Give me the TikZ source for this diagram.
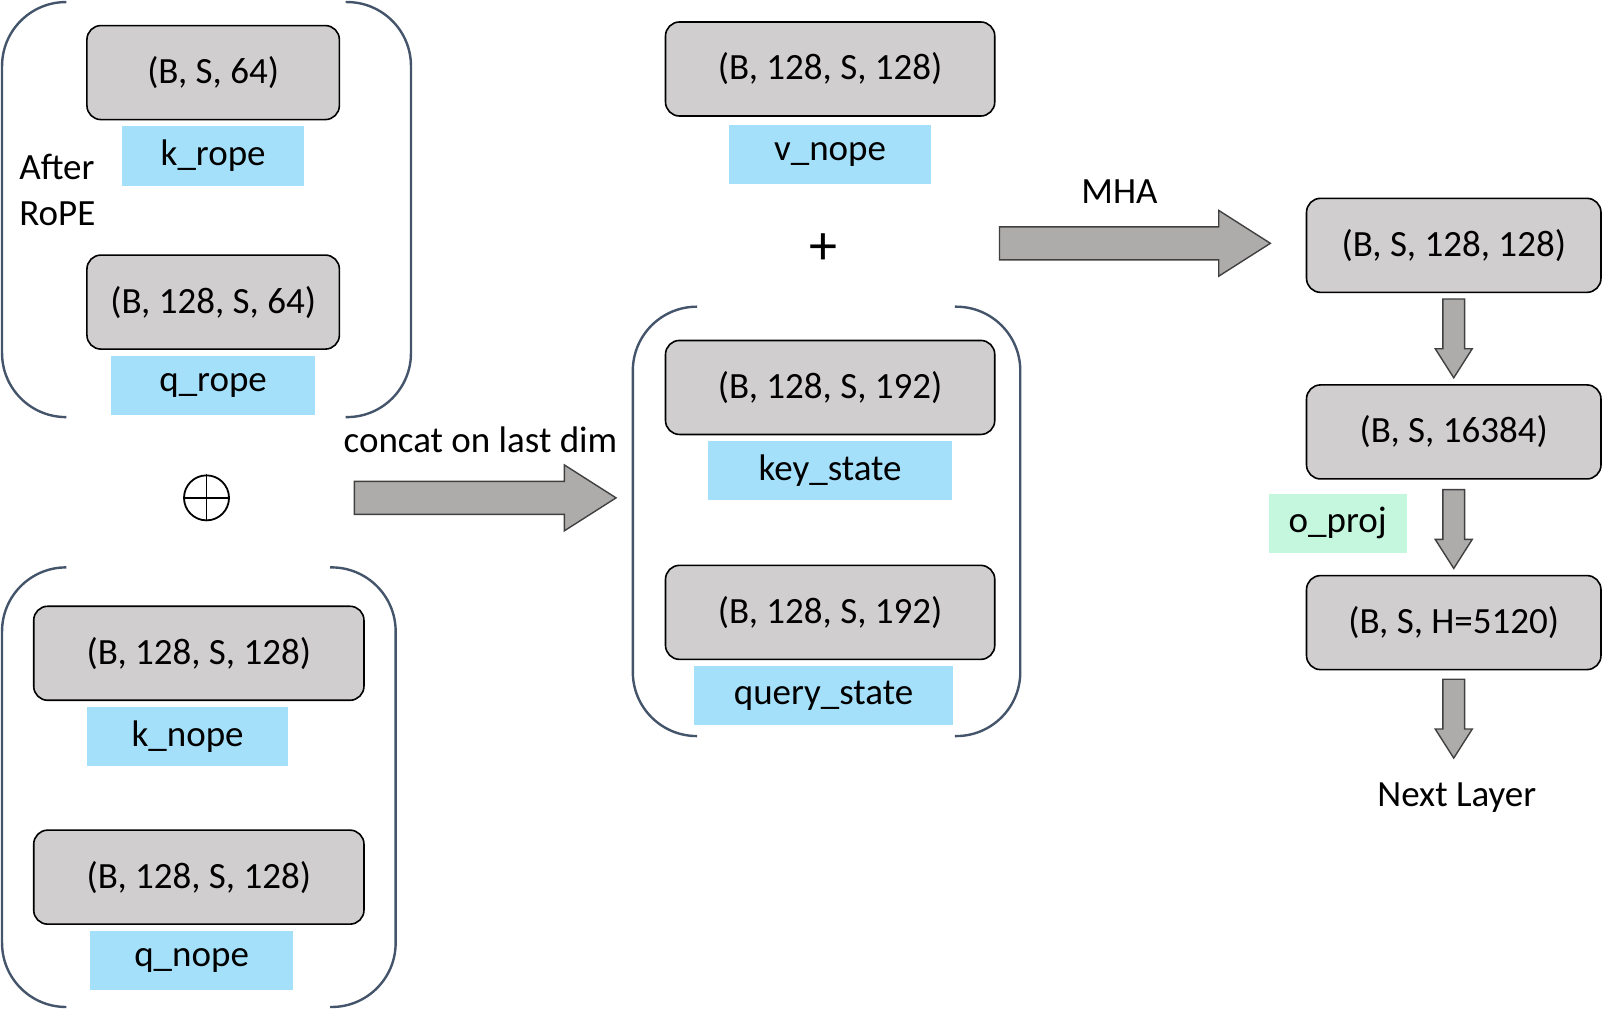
\documentclass[tikz,border=0pt]{standalone}
\usepackage{fontspec}
\setmainfont{Carlito}
\usetikzlibrary{positioning,shapes.arrows,calc}

\definecolor{boxgray}{HTML}{D0CECE}
\definecolor{tagblue}{HTML}{A5E0FA}
\definecolor{taggreen}{HTML}{C4F7DE}
\definecolor{arrowgray}{HTML}{AEABAB}
\definecolor{arrowline}{HTML}{404040}
\definecolor{brkcol}{HTML}{44546A}

\begin{document}
\begin{tikzpicture}
  [x=0.5111pt,y=-0.5111pt,font=\fontsize{18.5}{23}\selectfont,
   dimbox/.style={draw,fill=boxgray,rounded corners=7pt,line width=0.8pt,minimum width=#1,minimum height=47pt},
   tag/.style={fill=tagblue,minimum width=#1,minimum height=29.6pt},
   brk/.style={draw=brkcol,line width=1.2pt,rounded corners=32pt},
   fatarrow/.style={single arrow,draw=arrowline,fill=arrowgray,line width=0.7pt,inner sep=0pt,inner ysep=7.9pt,
     single arrow head extend=8.2pt,single arrow tip angle=65,single arrow head indent=0pt,minimum height=#1,anchor=tail},
   downarrow/.style={fatarrow=39.4pt,rotate=-90,inner ysep=5.1pt,single arrow head extend=3.8pt},
   node distance=2.8pt]

  \useasboundingbox (0,0) rectangle (1568,987);

  % rope part
  \draw[brk] (65,2) -| (2,408) -- (65,408);
  \draw[brk] (338,2) -| (402,408) -- (338,408);
  \node (krbox) [dimbox=126.2pt] at (208.5,71) {(B, S, 64)};
  \node (krope) [tag=91pt,below=of krbox] {k\_rope};
  \node (qrbox) [dimbox=126.2pt] at (208.5,295.5) {(B, 128, S, 64)};
  \node (qrope) [tag=102.2pt,below=of qrbox] {q\_rope};
  \node (after) [align=left,anchor=west] at (12,186) {After\\RoPE};

  \node (oplus) [circle,draw,line width=0.9pt,minimum size=22.5pt,inner sep=0pt] at (202,487) {};
  \draw[line width=0.9pt] (oplus.north) -- (oplus.south) (oplus.west) -- (oplus.east);

  % nope part
  \draw[brk] (65,555) -| (2,985) -- (65,985);
  \draw[brk] (323,555) -| (387,985) -- (323,985);
  \node (knbox) [dimbox=165.1pt] at (194.5,639) {(B, 128, S, 128)};
  \node (knope) [tag=100.7pt,below=of knbox,xshift=-5.6pt] {k\_nope};
  \node (qnbox) [dimbox=165.1pt] at (194.5,858) {(B, 128, S, 128)};
  \node (qnope) [tag=101.7pt,below=of qnbox,xshift=-3.6pt] {q\_nope};

  \node (concat) at (470,430) {concat on last dim};
  \node (catarrow) [fatarrow=130.8pt] at (346,487) {};

  % states
  \node (vbox) [dimbox=164.6pt] at (812,67.5) {(B, 128, S, 128)};
  \node (vnope) [tag=101.2pt,below=of vbox,yshift=-1pt] {v\_nope};
  \node (plus) at (805,244) {\fontsize{28}{28}\selectfont +};
  \draw[brk] (682,300) -| (619,720) -- (682,720);
  \draw[brk] (934,300) -| (998,720) -- (934,720);
  \node (kbox) [dimbox=164.6pt] at (812,379) {(B, 128, S, 192)};
  \node (kstate) [tag=122.2pt,below=of kbox] {key\_state};
  \node (qbox) [dimbox=164.6pt] at (812,599) {(B, 128, S, 192)};
  \node (qstate) [tag=129.3pt,below=of qbox,xshift=-3.3pt] {query\_state};

  \node (mha) at (1095,187) {MHA};
  \node (mhaarrow) [fatarrow=135.4pt] at (977,238) {};

  % output
  \node (sbox) [dimbox=147.2pt] at (1422,240) {(B, S, 128, 128)};
  \node (flatbox) [dimbox=147.2pt] at (1422,422.5) {(B, S, 16384)};
  \node (hbox) [dimbox=147.2pt] at (1422,609) {(B, S, H=5120)};
  \node (d1) [downarrow] at ($(sbox.south)+(0,5)$) {};
  \node (d2) [downarrow] at ($(flatbox.south)+(0,9)$) {};
  \node (d3) [downarrow] at ($(hbox.south)+(0,8)$) {};
  \node (oproj) [tag=69pt,fill=taggreen] at (1308.5,512) {o\_proj};
  \node (next) at (1425,780) {Next Layer};
\end{tikzpicture}
\end{document}
